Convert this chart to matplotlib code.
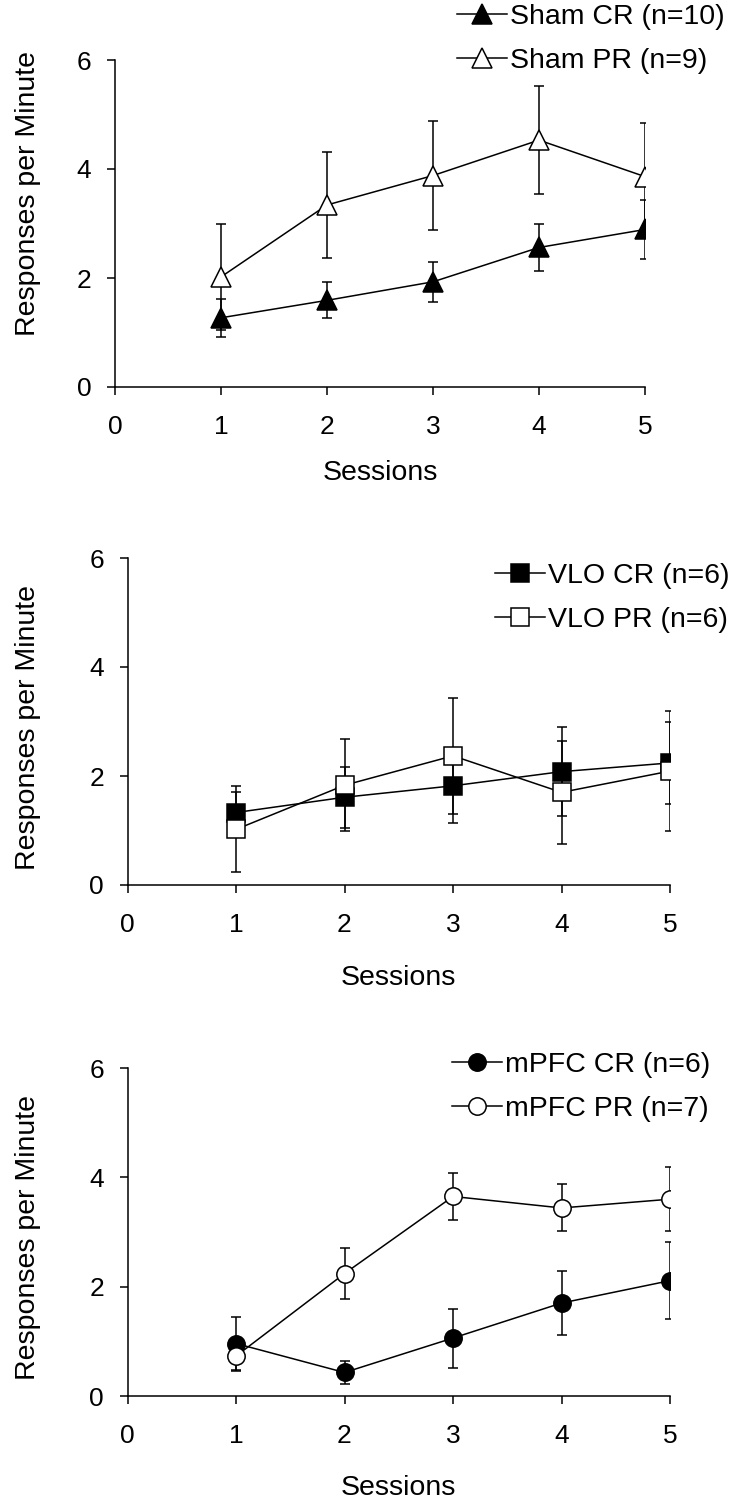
import matplotlib
matplotlib.use("Agg")
import matplotlib.pyplot as plt

plt.rcParams['font.family'] = ['Liberation Sans', 'DejaVu Sans']

sessions = [1, 2, 3, 4, 5]

# Sham
sham_cr = [1.27, 1.59, 1.93, 2.56, 2.89]
sham_cr_err = [0.35, 0.33, 0.37, 0.44, 0.54]
sham_pr = [2.02, 3.34, 3.88, 4.53, 3.86]
sham_pr_err = [0.98, 0.98, 1.00, 0.99, 0.99]

# VLO
vlo_cr = [1.33, 1.61, 1.82, 2.08, 2.24]
vlo_cr_err = [0.38, 0.56, 0.69, 0.82, 0.75]
vlo_pr = [1.02, 1.83, 2.37, 1.70, 2.09]
vlo_pr_err = [0.79, 0.84, 1.07, 0.94, 1.10]

# mPFC
mpfc_cr = [0.96, 0.43, 1.06, 1.70, 2.11]
mpfc_cr_err = [0.48, 0.21, 0.54, 0.59, 0.71]
mpfc_pr = [0.73, 2.24, 3.65, 3.44, 3.60]
mpfc_pr_err = [0.27, 0.47, 0.43, 0.43, 0.59]

W, H = 730, 1506
fig = plt.figure(figsize=(W / 100, H / 100), dpi=100)


def px_axes(left, right, top, bottom):
    return fig.add_axes([left / W, 1 - bottom / H, (right - left) / W, (bottom - top) / H])


def draw(ax, cr, cr_err, pr, pr_err, labels, marker, ms, leg_x, leg_y, ylab_y, xlab_y):
    lw = 1.1
    ax.errorbar(sessions, cr, yerr=cr_err, fmt='none', ecolor='black',
                elinewidth=lw, capsize=3.4, capthick=lw, zorder=2)
    ax.errorbar(sessions, pr, yerr=pr_err, fmt='none', ecolor='black',
                elinewidth=lw, capsize=3.4, capthick=lw, zorder=2)
    ax.plot(sessions, cr, color='black', lw=lw, marker=marker, ms=ms,
            mfc='black', mec='black', mew=lw, label=labels[0], zorder=3)
    ax.plot(sessions, pr, color='black', lw=lw, marker=marker, ms=ms,
            mfc='white', mec='black', mew=lw, label=labels[1], zorder=4)

    ax.set_xlim(0, 5)
    ax.set_ylim(0, 6)
    ax.set_xticks([0, 1, 2, 3, 4, 5])
    ax.set_yticks([0, 2, 4, 6])
    for s in ['top', 'right']:
        ax.spines[s].set_visible(False)
    for s in ['left', 'bottom']:
        ax.spines[s].set_linewidth(lw)
    ax.tick_params(axis='both', direction='out', length=6, width=lw, labelsize=19)
    ax.tick_params(axis='y', pad=11)
    ax.tick_params(axis='x', pad=14)
    for sp in ax.spines.values():
        sp.set_clip_on(False)

    ax.set_ylabel('Responses per Minute', fontsize=20.5)
    ax.set_xlabel('Sessions', fontsize=20.5)
    ax.yaxis.label.set_va('center')
    ax.xaxis.label.set_va('center')
    bb = ax.get_position()
    x0 = bb.x0 * W
    x1 = bb.x1 * W
    y_top = (1 - bb.y1) * H
    y_bot = (1 - bb.y0) * H
    ax.yaxis.set_label_coords((28 - x0) / (x1 - x0), (y_bot - ylab_y) / (y_bot - y_top))
    ax.xaxis.set_label_coords(0.5, (y_bot - xlab_y) / (y_bot - y_top))

    ax.legend(loc='upper left', bbox_to_anchor=(leg_x / W, 1 - (leg_y - 13) / H),
              bbox_transform=fig.transFigure, frameon=False, borderpad=0,
              borderaxespad=0, handlelength=1.75, handletextpad=0.1,
              labelspacing=0.62, fontsize=20.5, numpoints=1)


ax1 = px_axes(115, 645, 60, 387)
draw(ax1, sham_cr, sham_cr_err, sham_pr, sham_pr_err,
     ['Sham CR (n=10)', 'Sham PR (n=9)'], '^', 15, 457, 17, 193, 473)

ax2 = px_axes(127.5, 670, 558, 885)
draw(ax2, vlo_cr, vlo_cr_err, vlo_pr, vlo_pr_err,
     ['VLO CR (n=6)', 'VLO PR (n=6)'], 's', 12.5, 495, 576, 727, 978)

ax3 = px_axes(127.5, 670, 1068, 1396)
draw(ax3, mpfc_cr, mpfc_cr_err, mpfc_pr, mpfc_pr_err,
     ['mPFC CR (n=6)', 'mPFC PR (n=7)'], 'o', 12.5, 452, 1065, 1237, 1488)

fig.savefig('out.png', dpi=100)
